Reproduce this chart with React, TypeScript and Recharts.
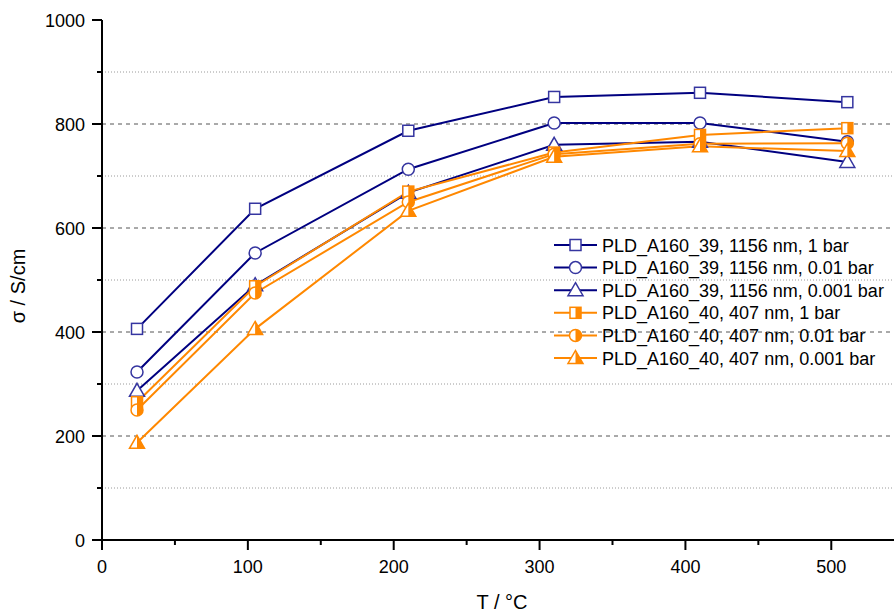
import React from 'react';
import { LineChart, Line, XAxis, YAxis, ReferenceLine, Label } from 'recharts';

const temps = [24, 105, 210, 310, 410, 511];
const s39_1bar = [406, 637, 787, 852, 860, 842];
const s39_001bar = [323, 552, 713, 802, 802, 766];
const s39_0001bar = [287, 490, 668, 760, 766, 727];
const s40_1bar = [265, 488, 670, 745, 779, 792];
const s40_001bar = [250, 475, 650, 742, 762, 763];
const s40_0001bar = [187, 406, 633, 737, 757, 748];

const xTicks = [0, 50, 100, 150, 200, 250, 300, 350, 400, 450, 500];
const yTicks = [0, 100, 200, 300, 400, 500, 600, 700, 800, 900, 1000];
const majorGrid = [200, 400, 600, 800];
const minorGrid = [100, 300, 500, 700, 900];

const NAVY = '#000080';
const NAVY_M = '#3535a0';
const ORANGE = '#ff8800';

const seriesDefs = [
  { key: 'a', name: 'PLD_A160_39, 1156 nm, 1 bar', values: s39_1bar, color: NAVY, mcolor: NAVY_M, shape: 'square', half: false },
  { key: 'b', name: 'PLD_A160_39, 1156 nm, 0.01 bar', values: s39_001bar, color: NAVY, mcolor: NAVY_M, shape: 'circle', half: false },
  { key: 'c', name: 'PLD_A160_39, 1156 nm, 0.001 bar', values: s39_0001bar, color: NAVY, mcolor: NAVY_M, shape: 'triangle', half: false },
  { key: 'd', name: 'PLD_A160_40, 407 nm, 1 bar', values: s40_1bar, color: ORANGE, mcolor: ORANGE, shape: 'square', half: true },
  { key: 'e', name: 'PLD_A160_40, 407 nm, 0.01 bar', values: s40_001bar, color: ORANGE, mcolor: ORANGE, shape: 'circle', half: true },
  { key: 'f', name: 'PLD_A160_40, 407 nm, 0.001 bar', values: s40_0001bar, color: ORANGE, mcolor: ORANGE, shape: 'triangle', half: true },
];

const data = temps.map((t, i) => {
  const row: any = { t };
  seriesDefs.forEach((s) => { row[s.key] = s.values[i]; });
  return row;
});

const FONT = "Arial, 'Liberation Sans', sans-serif";

function Marker({ cx, cy, shape, color, half }: any) {
  const sw = 1.5;
  if (shape === 'square') {
    const h = 5.5;
    return (
      <g>
        <rect x={cx - h} y={cy - h} width={2 * h} height={2 * h} fill="#fff" stroke={color} strokeWidth={sw} />
        {half && <rect x={cx} y={cy - h} width={h} height={2 * h} fill={color} />}
      </g>
    );
  }
  if (shape === 'circle') {
    const r = 6;
    return (
      <g>
        <circle cx={cx} cy={cy} r={r} fill="#fff" stroke={color} strokeWidth={sw} />
        {half && <path d={`M${cx},${cy - r} A${r},${r} 0 0 1 ${cx},${cy + r} Z`} fill={color} />}
      </g>
    );
  }
  const top = cy - 7.5, bot = cy + 5.5, w = 7.5;
  return (
    <g>
      <polygon points={`${cx},${top} ${cx + w},${bot} ${cx - w},${bot}`} fill="#fff" stroke={color} strokeWidth={sw} />
      {half && <polygon points={`${cx},${top} ${cx + w},${bot} ${cx},${bot}`} fill={color} />}
    </g>
  );
}

function makeDot(shape: string, color: string, half: boolean) {
  return (p: any) => {
    const { cx, cy, index } = p;
    if (cx == null || cy == null) return <g key={`n${index}`} />;
    return <Marker key={`d${index}`} cx={cx} cy={cy} shape={shape} color={color} half={half} />;
  };
}

function XTick(props: any) {
  const { x, y, payload } = props;
  const v = payload.value;
  const major = v % 100 === 0;
  return (
    <g>
      <line x1={x} x2={x} y1={y} y2={y + (major ? 10 : 5)} stroke="#000" strokeWidth={2} />
      {major && (
        <text x={x} y={y + 33} textAnchor="middle" fontSize={18} fontFamily={FONT} fill="#000">{v}</text>
      )}
    </g>
  );
}

function YTick(props: any) {
  const { x, y, payload } = props;
  const v = payload.value;
  const major = v % 200 === 0;
  return (
    <g>
      <line x1={x - (major ? 10 : 5)} x2={x} y1={y} y2={y} stroke="#000" strokeWidth={2} />
      {major && (
        <text x={x - 17} y={y + 6.5} textAnchor="end" fontSize={18} fontFamily={FONT} fill="#000">{v}</text>
      )}
    </g>
  );
}

function LegendBox() {
  const rowH = 22.6;
  return (
    <svg width={340} height={140} style={{ position: 'absolute', left: 550, top: 232, overflow: 'visible' }}>
      {seriesDefs.map((s, i) => {
        const cy = 13 + i * rowH;
        return (
          <g key={s.key}>
            <line x1={4} x2={47} y1={cy} y2={cy} stroke={s.color} strokeWidth={2} />
            <Marker cx={25.5} cy={cy} shape={s.shape} color={s.mcolor} half={s.half} />
            <text x={52} y={cy + 6.5} fontSize={18} fontFamily={FONT} fill="#000">{s.name}</text>
          </g>
        );
      })}
    </svg>
  );
}

export default function App() {
  return (
    <div style={{ position: 'absolute', left: 0, top: 0, width: 894, height: 614, background: '#fff' }}>
      <LineChart width={894} height={614} data={data} margin={{ top: 20, right: 0, bottom: 0, left: 0 }}>
        {minorGrid.map((v) => (
          <ReferenceLine key={`mi${v}`} y={v} stroke="#9a9a9a" strokeDasharray="1 2" strokeWidth={1} ifOverflow="visible" />
        ))}
        {majorGrid.map((v) => (
          <ReferenceLine key={`ma${v}`} y={v} stroke="#555" strokeDasharray="4 4" strokeWidth={1} ifOverflow="visible" />
        ))}
        <XAxis
          dataKey="t"
          type="number"
          domain={[0, 543]}
          ticks={xTicks}
          allowDataOverflow
          height={74}
          tickLine={false}
          tickSize={0}
          tickMargin={0}
          axisLine={{ stroke: '#000', strokeWidth: 2 }}
          tick={<XTick />}
          interval={0}
        >
          <Label content={() => (
            <text x={502} y={609} textAnchor="middle" fontSize={20} fontFamily={FONT} fill="#000">T / °C</text>
          )} />
        </XAxis>
        <YAxis
          type="number"
          domain={[0, 1000]}
          ticks={yTicks}
          width={102}
          tickLine={false}
          tickSize={0}
          tickMargin={0}
          axisLine={{ stroke: '#000', strokeWidth: 2 }}
          tick={<YTick />}
          interval={0}
        >
          <Label content={() => (
            <text x={25} y={286} transform="rotate(-90 25 286)" textAnchor="middle" fontSize={20} fontFamily={FONT} fill="#000">σ / S/cm</text>
          )} />
        </YAxis>
        {seriesDefs.map((s) => (
          <Line
            key={s.key}
            type="linear"
            dataKey={s.key}
            name={s.name}
            stroke={s.color}
            strokeWidth={2}
            dot={makeDot(s.shape, s.mcolor, s.half)}
            activeDot={false}
            isAnimationActive={false}
          />
        ))}
      </LineChart>
      <LegendBox />
    </div>
  );
}
